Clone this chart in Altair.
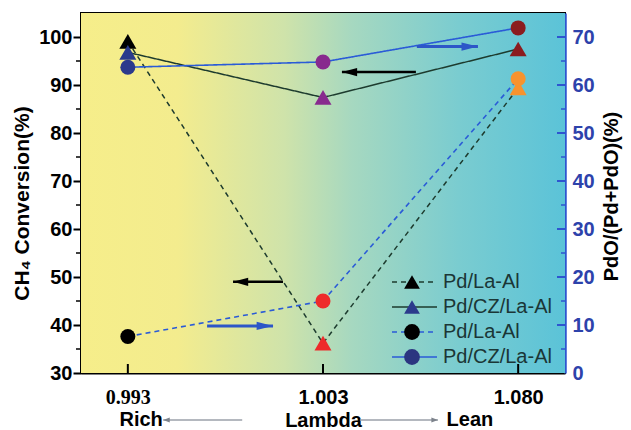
import json
import altair as alt
import pandas as pd

# ---------------- data ----------------
lambda_labels = ["0.993", "1.003", "1.080"]
x_index = [0, 1, 2]

conv_series = ["Pd/La-Al", "Pd/CZ/La-Al"]
conv_pd_la = [99.1, 36.2, 89.4]      # CH4 conversion (%) – left axis
conv_pd_cz = [96.8, 87.4, 97.5]
pdo_pd_la = [7.6, 15.0, 61.3]        # PdO/(Pd+PdO) (%) – right axis
pdo_pd_cz = [63.7, 64.8, 71.9]

pd_la_marker_colors = ["#000000", "#ee2b2b", "#f7932e"]
pd_cz_marker_colors = ["#2b3a8c", "#882a8e", "#8b1c1f"]

black_arrow_tail = [1.476, 0.795]
black_arrow_tip = [1.097, 0.539]
black_arrow_y = [92.7, 49.0]
blue_arrow_tail = [1.481, 0.406]
blue_arrow_tip = [1.794, 0.744]
blue_arrow_y = [68.0, 9.8]

side_labels = ["Rich", "Lean"]
side_label_x = [0.068, 1.753]
side_arrow_tail = [0.586, 1.189]
side_arrow_tip = [0.181, 1.589]

legend_labels = ["Pd/La-Al", "Pd/CZ/La-Al", "Pd/La-Al", "Pd/CZ/La-Al"]
legend_line_colors = ["#1d3b2e", "#1d3b2e", "#2a5bd7", "#2a5bd7"]
legend_marker_colors = ["#000000", "#2b3a8c", "#000000", "#2b3580"]
legend_shapes = ["triangle-up", "triangle-up", "circle", "circle"]

# ---------------- styling ----------------
W, H = 484, 360
SANS = "Liberation Sans"
SERIF = "Liberation Serif"
CONV_LINE = "#1d3b2e"
BLUE_LINE = "#2a5bd7"
AXIS_BLUE = "#2e55d0"
LABEL_BLUE = "#2d42ab"

x_scale = alt.Scale(domain=[-0.24, 2.24], nice=False, zero=False)
left_scale = alt.Scale(domain=[30, 105], nice=False, zero=False)
right_scale = alt.Scale(domain=[0, 75], nice=False, zero=False)

x_axis = alt.Axis(
    values=x_index,
    labelExpr=f"{json.dumps(lambda_labels)}[datum.value]",
    title="Lambda", tickSize=0, grid=False,
    domainColor="black", domainWidth=2,
    labelFont={"condition": {"test": "datum.value == 0", "value": SERIF}, "value": SANS},
    labelFontSize=20, labelFontWeight="bold", labelColor="black", labelPadding=14,
    titleFont=SANS, titleFontSize=20, titleFontWeight="bold", titleColor="black",
    titlePadding=3,
)
left_axis = alt.Axis(
    title="CH₄ Conversion(%)", orient="left", values=list(range(30, 101, 10)),
    tickSize=8, tickWidth=2, tickColor="black", domainColor="black", domainWidth=2,
    labelFont=SANS, labelFontSize=20, labelFontWeight="bold", labelColor="black",
    labelPadding=1, titleFont=SANS, titleFontSize=21, titleFontWeight="bold",
    titleColor="black", titleAngle=270, titleX=-59, titleY=190,
    titleAlign="center", titleBaseline="middle", grid=False,
)
right_axis = alt.Axis(
    title="PdO/(Pd+PdO)(%)", orient="right", values=list(range(0, 71, 10)),
    tickSize=0, domainColor=AXIS_BLUE, domainWidth=2.5,
    labelFont=SANS, labelFontSize=20, labelFontWeight="bold", labelColor=LABEL_BLUE,
    labelPadding=7, titleFont=SANS, titleFontSize=20, titleFontWeight="bold",
    titleColor="black", titleAngle=270, titleX=46, titleY=183,
    titleAlign="center", titleBaseline="middle", grid=False,
)

X = alt.X("x:Q", scale=x_scale, axis=x_axis)
YL = alt.Y("value:Q", scale=left_scale, axis=left_axis)
YR = alt.Y("value:Q", scale=right_scale, axis=right_axis)

def head_path(direction, length, half):
    if direction == "left":
        return f"M0,0L{length},{-half}L{length},{half}Z"
    return f"M0,0L{-length},{-half}L{-length},{half}Z"

# ---------------- background ----------------
bg = alt.Chart(pd.DataFrame({"a": [0]})).mark_rect(
    fill=alt.LinearGradient(
        gradient="linear", x1=0, x2=1, y1=0, y2=0,
        stops=[
            alt.GradientStop(offset=0, color="#f6ee8a"),
            alt.GradientStop(offset=0.2, color="#f3ec8e"),
            alt.GradientStop(offset=0.42, color="#cfe3aa"),
            alt.GradientStop(offset=0.56, color="#a6d8c0"),
            alt.GradientStop(offset=0.78, color="#7accd0"),
            alt.GradientStop(offset=1, color="#5bc3d8"),
        ],
    )
).encode(x=alt.value(0), x2=alt.value(W), y=alt.value(0), y2=alt.value(H))

# ---------------- left (conversion) ----------------
conv_df = pd.DataFrame({
    "x": x_index * 2,
    "value": conv_pd_la + conv_pd_cz,
    "series": [s for s in conv_series for _ in x_index],
    "mcolor": pd_la_marker_colors + pd_cz_marker_colors,
})
conv_lines = alt.Chart(conv_df).mark_line(color=CONV_LINE, strokeWidth=1.5).encode(
    x=X, y=YL, detail="series:N",
    strokeDash=alt.StrokeDash("series:N", scale=alt.Scale(domain=conv_series, range=[[5, 4], [1, 0]]), legend=None),
)
conv_pts = alt.Chart(conv_df).mark_point(shape="triangle-up", filled=True, size=290, opacity=1).encode(
    x=X, y=YL, color=alt.Color("mcolor:N", scale=None)
)
barrow_df = pd.DataFrame({"x": black_arrow_tail, "tip": black_arrow_tip, "value": black_arrow_y})
barrow_line = alt.Chart(barrow_df).mark_rule(color="black", strokeWidth=2.5).encode(x=X, x2="tip:Q", y=YL)
barrow_head = alt.Chart(barrow_df).mark_point(shape=head_path("left", 2.4, 0.65), filled=True, size=160, opacity=1, color="black").encode(
    x=alt.X("tip:Q", scale=x_scale, axis=x_axis), y=YL
)
left_minor = alt.Chart(pd.DataFrame({"value": list(range(35, 100, 10))})).mark_rule(color="black", strokeWidth=1.5).encode(
    y=YL, x=alt.value(-5), x2=alt.value(0)
)
bottom_ticks = alt.Chart(pd.DataFrame({"x": x_index})).mark_rule(color="black", strokeWidth=2).encode(
    x=X, y=alt.value(H), y2=alt.value(H - 9)
)
side_df = pd.DataFrame({"x": side_label_x, "label": side_labels})
side_text = alt.Chart(side_df).mark_text(font=SANS, fontSize=20, fontWeight="bold", color="black", baseline="middle").encode(
    x=X, y=alt.value(407), text="label:N"
)
sarrow_df = pd.DataFrame({"x": side_arrow_tail, "tip": side_arrow_tip})
sarrow_line = alt.Chart(sarrow_df).mark_rule(color="#9ba1aa", strokeWidth=1.5).encode(x=X, x2="tip:Q", y=alt.value(407))
sarrow_head_l = alt.Chart(sarrow_df.iloc[[0]]).mark_point(shape=head_path("left", 2.2, 0.8), filled=True, size=36, opacity=1, color="#7d838c").encode(
    x=alt.X("tip:Q", scale=x_scale, axis=x_axis), y=alt.value(407)
)
sarrow_head_r = alt.Chart(sarrow_df.iloc[[1]]).mark_point(shape=head_path("right", 2.2, 0.8), filled=True, size=36, opacity=1, color="#7d838c").encode(
    x=alt.X("tip:Q", scale=x_scale, axis=x_axis), y=alt.value(407)
)

left_group = alt.layer(conv_lines, conv_pts, barrow_line, barrow_head, left_minor, bottom_ticks,
                       side_text, sarrow_line, sarrow_head_l, sarrow_head_r)

# ---------------- right (PdO fraction) ----------------
pdo_df = pd.DataFrame({
    "x": x_index * 2,
    "value": pdo_pd_la + pdo_pd_cz,
    "series": [s for s in conv_series for _ in x_index],
    "mcolor": pd_la_marker_colors + pd_cz_marker_colors,
})
pdo_lines = alt.Chart(pdo_df).mark_line(color=BLUE_LINE, strokeWidth=1.6).encode(
    x=X, y=YR, detail="series:N",
    strokeDash=alt.StrokeDash("series:N", scale=alt.Scale(domain=conv_series, range=[[6, 4], [1, 0]]), legend=None),
)
pdo_pts = alt.Chart(pdo_df).mark_point(shape="circle", filled=True, size=225, opacity=1).encode(
    x=X, y=YR, color=alt.Color("mcolor:N", scale=None)
)
uarrow_df = pd.DataFrame({"x": blue_arrow_tail, "tip": blue_arrow_tip, "value": blue_arrow_y})
uarrow_line = alt.Chart(uarrow_df).mark_rule(color="#2d56c8", strokeWidth=3).encode(x=X, x2="tip:Q", y=YR)
uarrow_head = alt.Chart(uarrow_df).mark_point(shape=head_path("right", 2.6, 0.65), filled=True, size=160, opacity=1, color="#2d56c8").encode(
    x=alt.X("tip:Q", scale=x_scale, axis=x_axis), y=YR
)
right_major = alt.Chart(pd.DataFrame({"value": list(range(10, 71, 10))})).mark_rule(color=AXIS_BLUE, strokeWidth=2).encode(
    y=YR, x=alt.value(W - 8), x2=alt.value(W)
)
right_minor = alt.Chart(pd.DataFrame({"value": list(range(5, 71, 10))})).mark_rule(color=AXIS_BLUE, strokeWidth=1.5).encode(
    y=YR, x=alt.value(W - 4), x2=alt.value(W)
)
right_group = alt.layer(pdo_lines, uarrow_line, uarrow_head, right_major, right_minor, pdo_pts)

# ---------------- legend ----------------
leg_df = pd.DataFrame({
    "row": [0, 1, 2, 3],
    "label": legend_labels,
    "lcolor": legend_line_colors,
    "mcolor": legend_marker_colors,
    "shape": legend_shapes,
})
LY = alt.Y("row:Q", scale=alt.Scale(domain=[0, 3], range=[269, 344]), axis=None)
leg_lines = alt.Chart(leg_df).mark_rule(strokeWidth=1.6).encode(
    y=LY, x=alt.value(311), x2=alt.value(356),
    color=alt.Color("lcolor:N", scale=None),
    strokeDash=alt.StrokeDash("row:N", scale=alt.Scale(domain=[0, 1, 2, 3], range=[[5, 5], [1, 0], [5, 5], [1, 0]]), legend=None),
)
leg_pts = alt.Chart(leg_df).mark_point(filled=True, size=250, opacity=1).encode(
    y=LY, x=alt.value(331), color=alt.Color("mcolor:N", scale=None),
    shape=alt.Shape("shape:N", scale=None),
)
leg_text = alt.Chart(leg_df).mark_text(font=SANS, fontSize=20, align="left", baseline="middle", color="#1b3636").encode(
    y=LY, x=alt.value(362), text="label:N"
)
legend_group = alt.layer(leg_lines, leg_pts, leg_text)

chart = alt.layer(bg, left_group, right_group, legend_group).resolve_scale(y="independent").properties(
    width=W, height=H,
    autosize=alt.AutoSizeParams(type="none"),
    padding={"left": 73, "top": 5, "right": 58, "bottom": 57},
).configure_view(stroke="black", strokeWidth=2)

chart.save("out.html", embed_options={"renderer": "svg", "actions": False})
